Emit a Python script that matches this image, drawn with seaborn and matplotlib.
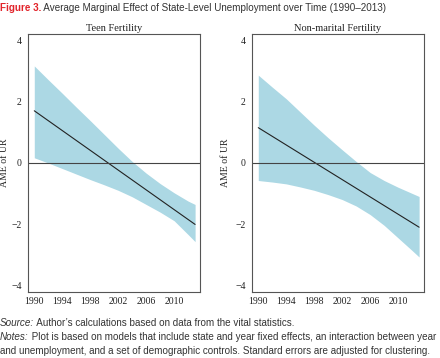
import matplotlib
matplotlib.use("Agg")
import matplotlib.pyplot as plt
import seaborn as sns
import pandas as pd

# ---- data ----
years = [1990, 1992, 1994, 1996, 1998, 2000, 2002, 2004, 2006, 2008, 2010, 2012, 2013]
teen_upper = [3.16, 2.71, 2.27, 1.82, 1.38, 0.93, 0.48, 0.05, -0.33, -0.67, -0.97, -1.24, -1.35]
teen_lower = [0.17, 0.00, -0.18, -0.36, -0.54, -0.71, -0.89, -1.10, -1.35, -1.60, -1.88, -2.33, -2.56]
nm_upper = [2.86, 2.47, 2.09, 1.66, 1.23, 0.82, 0.43, 0.05, -0.31, -0.57, -0.79, -0.99, -1.09]
nm_lower = [-0.57, -0.62, -0.68, -0.78, -0.89, -1.03, -1.19, -1.40, -1.68, -2.03, -2.44, -2.85, -3.06]
line_years = [1990, 2013]
teen_ame = [1.70, -2.00]
nm_ame = [1.15, -2.09]
panel_titles = ["Teen Fertility", "Non-marital Fertility"]
xticks = [1990, 1994, 1998, 2002, 2006, 2010]
yticks = [-4, -2, 0, 2, 4]

sns.set_theme(style="white")
plt.rcParams["font.family"] = ["Liberation Serif", "DejaVu Serif"]

fig = plt.figure(figsize=(4.4, 3.58), dpi=100)
band_color = "#acd8e4"
spine_color = "#555555"

panels = [
    (teen_upper, teen_lower, teen_ame),
    (nm_upper, nm_lower, nm_ame),
]
lefts = [28 / 440, 252 / 440]
label_x = [-0.11, -0.128]
for i, (up, lo, ame) in enumerate(panels):
    ax = fig.add_axes([lefts[i], 1 - 292 / 358, 172 / 440, 258 / 358])
    ax.fill_between(years, lo, up, color=band_color, linewidth=0)
    df = pd.DataFrame({"year": line_years, "ame": ame})
    sns.lineplot(data=df, x="year", y="ame", ax=ax, color="#222222", linewidth=0.8)
    ax.axhline(0, color="#444444", linewidth=0.8)
    ax.set_xlim(1989.1, 2013.7)
    ax.set_ylim(-4.2, 4.2)
    ax.set_xticks(xticks)
    ax.set_yticks(yticks)
    ax.set_yticklabels(["\u22124", "\u22122", "0", "2", "4"])
    ax.set_xlabel("")
    ax.set_ylabel("AME of UR", fontsize=7, color="#222222")
    ax.yaxis.set_label_coords(label_x[i], 0.5)
    ax.set_title(panel_titles[i], fontsize=7.5, color="#222222", pad=2.5)
    ax.tick_params(axis="both", labelsize=7, colors="#222222", length=2.5,
                   width=0.6, direction="out", pad=2)
    ax.tick_params(axis="x", length=1.5)
    for s in ax.spines.values():
        s.set_color(spine_color)
        s.set_linewidth(0.8)

# ---- header & footer text ----
sans = ["Liberation Sans", "DejaVu Sans"]
fig.canvas.draw()
r = fig.canvas.get_renderer()

def run(x, y, parts, size):
    for txt, kw in parts:
        t = fig.text(x / 440, 1 - y / 358, txt, fontsize=size, family=sans,
                     va="baseline", ha="left", **kw)
        bb = t.get_window_extent(renderer=r)
        x = bb.x1 + 0.0

run(0, 11, [("Figure 3.", dict(color="#e2232a", fontweight="bold")),
            (" Average Marginal Effect of State-Level Unemployment over Time (1990\u20132013)",
             dict(color="#333333"))], 7.12)
run(0, 326, [("Source:", dict(color="#333333", style="italic")),
             (" Author\u2019s calculations based on data from the vital statistics.",
              dict(color="#333333"))], 7.1)
run(0, 340, [("Notes:", dict(color="#333333", style="italic")),
             (" Plot is based on models that include state and year fixed effects, an interaction between year",
              dict(color="#333333"))], 7.1)
run(0, 354, [("and unemployment, and a set of demographic controls. Standard errors are adjusted for clustering.",
              dict(color="#333333"))], 7.1)

fig.savefig("out.png", dpi=100)
